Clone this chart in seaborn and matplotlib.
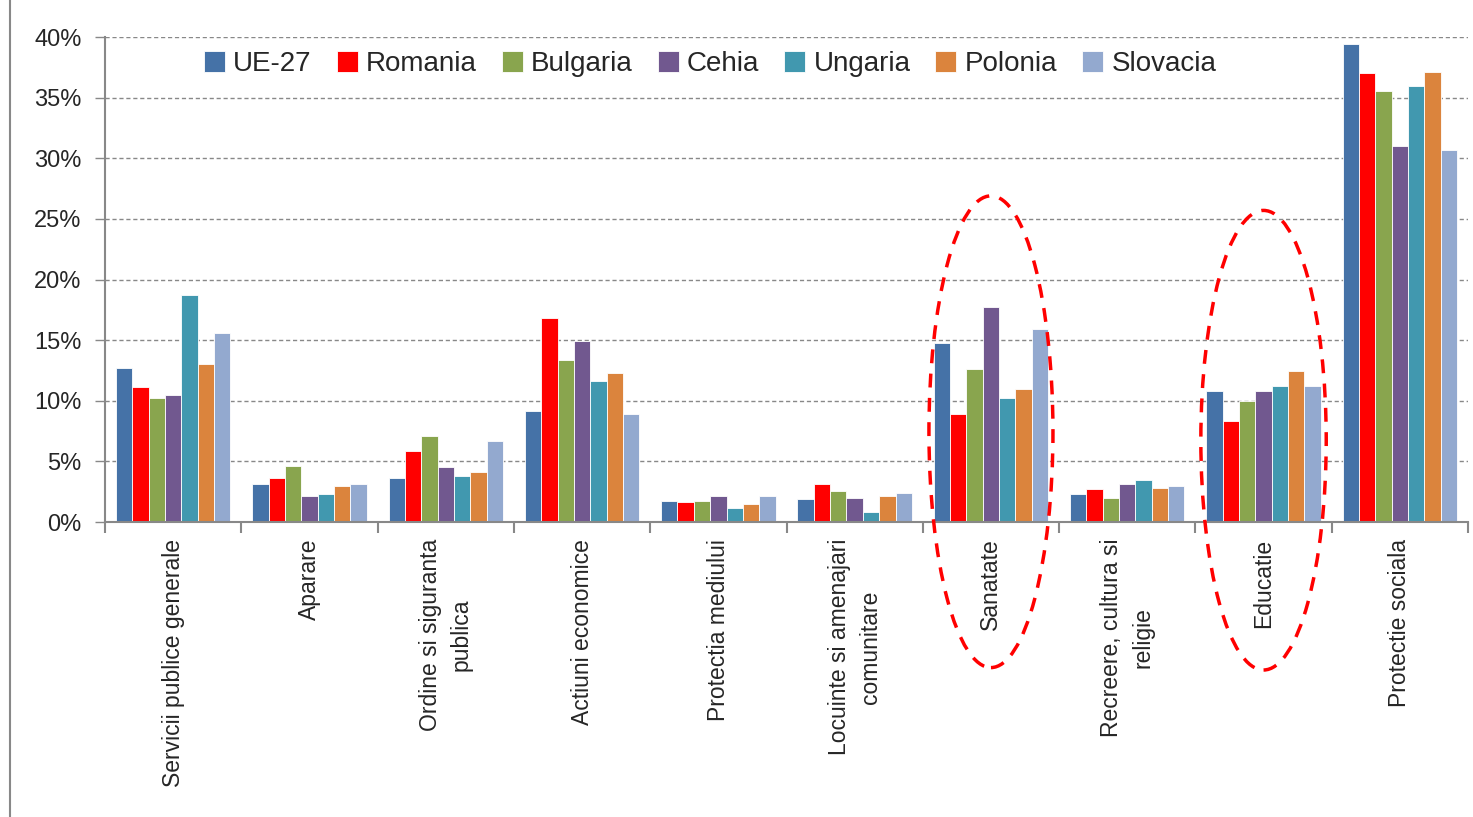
import matplotlib
matplotlib.use("Agg")
import matplotlib.pyplot as plt
import pandas as pd
import seaborn as sns
from matplotlib.lines import Line2D
from matplotlib.patches import Ellipse
from matplotlib.ticker import FuncFormatter

categories = [
    "Servicii publice generale", "Aparare", "Ordine si siguranta\npublica",
    "Actiuni economice", "Protectia mediului", "Locuinte si amenajari\ncomunitare",
    "Sanatate", "Recreere, cultura si\nreligie", "Educatie", "Protectie sociala",
]
countries = ["UE-27", "Romania", "Bulgaria", "Cehia", "Ungaria", "Polonia", "Slovacia"]
colors = ["#4572A7", "#FF0000", "#89A54E", "#71588F", "#4198AF", "#DB843D", "#93A9CF"]

# share of expenditure (%), one list per country, in category order
ue27 = [12.7, 3.1, 3.65, 9.15, 1.75, 1.9, 14.8, 2.3, 10.8, 39.4]
romania = [11.1, 3.65, 5.85, 16.85, 1.65, 3.15, 8.9, 2.7, 8.35, 37.05]
bulgaria = [10.25, 4.6, 7.1, 13.4, 1.75, 2.55, 12.6, 2.0, 10.0, 35.55]
cehia = [10.5, 2.15, 4.5, 14.95, 2.15, 2.0, 17.7, 3.1, 10.8, 31.0]
ungaria = [18.75, 2.3, 3.8, 11.6, 1.2, 0.8, 10.25, 3.5, 11.2, 35.95]
polonia = [13.0, 3.0, 4.1, 12.3, 1.45, 2.15, 10.95, 2.85, 12.45, 37.15]
slovacia = [15.6, 3.1, 6.7, 8.9, 2.15, 2.4, 15.9, 3.0, 11.2, 30.7]

series = [ue27, romania, bulgaria, cehia, ungaria, polonia, slovacia]
rows = []
for name, vals in zip(countries, series):
    for cat, v in zip(categories, vals):
        rows.append({"categorie": cat, "tara": name, "valoare": v})
df = pd.DataFrame(rows)

sns.set_style("white")
plt.rcParams["font.family"] = ["Liberation Sans", "DejaVu Sans"]

fig = plt.figure(figsize=(14.73, 8.17), dpi=100)
ax = fig.add_axes([0.0713, 0.361, 0.9253, 0.5937])

sns.barplot(data=df, x="categorie", y="valoare", hue="tara", order=categories,
            hue_order=countries, palette=colors, saturation=1, width=0.84, gap=0,
            edgecolor="white", linewidth=0.6, ax=ax, errorbar=None)

ax.set_ylim(0, 40)
ax.set_xlim(-0.5, len(categories) - 0.5)
ax.set_yticks(range(0, 41, 5))
ax.yaxis.set_major_formatter(FuncFormatter(lambda v, p: f"{v:.0f}%"))
ax.yaxis.grid(True, linestyle=(0, (3, 2)), color="#888888", linewidth=1)
ax.set_axisbelow(True)
ax.tick_params(axis="y", labelsize=17, length=7, width=1, color="#888888",
               direction="out", left=True, pad=10)

# category labels on minor ticks, separators as major ticks
ax.set_xticks([i - 0.5 for i in range(len(categories) + 1)])
ax.set_xticklabels([])
ax.set_xticks(range(len(categories)), minor=True)
ax.set_xticklabels(categories, minor=True, rotation=90, fontsize=16.5,
                   ha="center", va="top", multialignment="center", linespacing=1.45)
ax.tick_params(axis="x", which="major", length=8, width=1.5, color="#888888",
               direction="out", bottom=True)
ax.tick_params(axis="x", which="minor", length=0, pad=12)

ax.set_xlabel("")
ax.set_ylabel("")
for side in ["top", "right"]:
    ax.spines[side].set_visible(False)
for side in ["left", "bottom"]:
    ax.spines[side].set_color("#888888")
    ax.spines[side].set_linewidth(1.5)

handles, labels = ax.get_legend_handles_labels()
ax.legend(handles, labels, loc="center", bbox_to_anchor=(0.444, 0.944), ncol=7,
          frameon=False, fontsize=20, handlelength=0.75, handleheight=0.75,
          handletextpad=0.3, columnspacing=0.9)

# dashed highlight around Sanatate and Educatie
for cx, cy, w, h in [(6, 7.45, 0.91, 38.9), (8, 6.75, 0.92, 37.9)]:
    e = Ellipse((cx, cy), w, h, fill=False, edgecolor="#FF0000", linewidth=2.5,
                linestyle=(0, (4, 3)), clip_on=False, zorder=5)
    ax.add_patch(e)

fig.add_artist(Line2D([0.0068, 0.0068], [0, 1], color="#888888", linewidth=1.5))

fig.savefig("out.png", dpi=100)
